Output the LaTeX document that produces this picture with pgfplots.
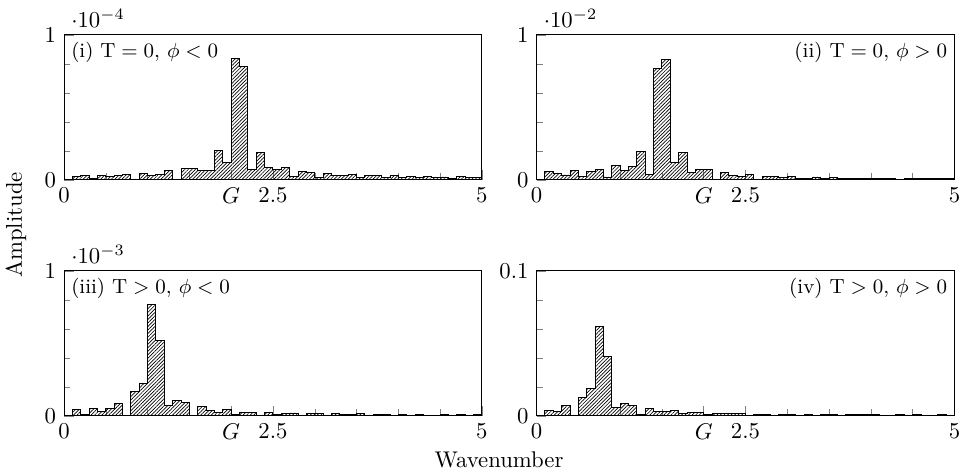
\documentclass[border=0pt]{standalone}
\usepackage{pgfplots}
\pgfplotsset{compat=1.18}
\usetikzlibrary{patterns.meta}
\tikzset{plab/.style={font=\small, inner sep=3pt}}
\begin{document}
\begin{tikzpicture}
\useasboundingbox (0,0) rectangle (424.2pt,207.2pt);
\pgfplotsset{
  panel/.style={
    width=183.9pt, height=63.8pt, scale only axis, anchor=south west,
    xmin=0, xmax=5, ymin=0,
    xtick={0,2,2.5,5}, xticklabels={$0$,$G$,$2.5$,$5$},
    minor xtick={0.5,1,1.5,3,3.5,4,4.5},
    minor y tick num=4,
    xtick pos=bottom, ytick pos=left,
    every y tick scale label/.style={at={(rel axis cs:0,1)},anchor=south west,inner sep=0pt,xshift=3pt,yshift=3pt},
  },
  hist/.style={const plot, draw=black, line width=0.4pt, mark=none,
    pattern={Lines[angle=45,distance=1.1pt,line width=0.3pt]}},
}
% (i)
\begin{axis}[panel, at={(28.16pt,128.04pt)}, ymax=1e-4, ytick={0,1e-4}]
\addplot[hist] table {
x y
0.1 0.025e-4
0.2 0.030e-4
0.3 0.008e-4
0.4 0.030e-4
0.5 0.022e-4
0.6 0.030e-4
0.7 0.038e-4
0.8 0.005e-4
0.9 0.042e-4
1.0 0.032e-4
1.1 0.036e-4
1.2 0.062e-4
1.3 0.005e-4
1.4 0.080e-4
1.5 0.078e-4
1.6 0.062e-4
1.7 0.062e-4
1.8 0.200e-4
1.9 0.120e-4
2.0 0.835e-4
2.1 0.780e-4
2.2 0.070e-4
2.3 0.190e-4
2.4 0.087e-4
2.5 0.070e-4
2.6 0.087e-4
2.7 0.023e-4
2.8 0.057e-4
2.9 0.048e-4
3.0 0.018e-4
3.1 0.046e-4
3.2 0.030e-4
3.3 0.028e-4
3.4 0.039e-4
3.5 0.018e-4
3.6 0.032e-4
3.7 0.028e-4
3.8 0.016e-4
3.9 0.030e-4
4.0 0.016e-4
4.1 0.025e-4
4.2 0.014e-4
4.3 0.023e-4
4.4 0.014e-4
4.5 0.020e-4
4.6 0.011e-4
4.7 0.023e-4
4.8 0.016e-4
4.9 0.018e-4
5.0 0.018e-4
} \closedcycle;
\node[plab, anchor=north west] at (rel axis cs:0,1) {(i) $\mathrm{T}=0$, $\phi<0$};
\end{axis}
% (ii)
\begin{axis}[panel, at={(236.1pt,128.04pt)}, ymax=1e-2, ytick={0,1e-2}]
\addplot[hist] table {
x y
0.1 0.057e-2
0.2 0.046e-2
0.3 0.034e-2
0.4 0.064e-2
0.5 0.023e-2
0.6 0.057e-2
0.7 0.069e-2
0.8 0.020e-2
0.9 0.100e-2
1.0 0.064e-2
1.1 0.092e-2
1.2 0.195e-2
1.3 0.040e-2
1.4 0.771e-2
1.5 0.828e-2
1.6 0.121e-2
1.7 0.188e-2
1.8 0.050e-2
1.9 0.073e-2
2.0 0.073e-2
2.1 0.002e-2
2.2 0.050e-2
2.3 0.030e-2
2.4 0.023e-2
2.5 0.039e-2
2.6 0.005e-2
2.7 0.023e-2
2.8 0.023e-2
2.9 0.018e-2
3.0 0.025e-2
3.1 0.010e-2
3.2 0.012e-2
3.3 0.020e-2
3.4 0.008e-2
3.5 0.014e-2
3.6 0.010e-2
3.7 0.012e-2
3.8 0.008e-2
3.9 0.012e-2
4.0 0.010e-2
4.1 0.008e-2
4.2 0.012e-2
4.3 0.006e-2
4.4 0.010e-2
4.5 0.010e-2
4.6 0.008e-2
4.7 0.010e-2
4.8 0.007e-2
4.9 0.009e-2
5.0 0.009e-2
} \closedcycle;
\node[plab, anchor=north east] at (rel axis cs:1,1) {(ii) $\mathrm{T}=0$, $\phi>0$};
\end{axis}
% (iii)
\begin{axis}[panel, at={(28.16pt,24.2pt)}, ymax=1e-3, ytick={0,1e-3}]
\addplot[hist] table {
x y
0.1 0.044e-3
0.2 0.012e-3
0.3 0.053e-3
0.4 0.028e-3
0.5 0.051e-3
0.6 0.086e-3
0.7 0.000e-3
0.8 0.167e-3
0.9 0.225e-3
1.0 0.766e-3
1.1 0.520e-3
1.2 0.070e-3
1.3 0.106e-3
1.4 0.093e-3
1.5 0.005e-3
1.6 0.065e-3
1.7 0.035e-3
1.8 0.023e-3
1.9 0.042e-3
2.0 0.007e-3
2.1 0.025e-3
2.2 0.025e-3
2.3 0.000e-3
2.4 0.023e-3
2.5 0.012e-3
2.6 0.016e-3
2.7 0.020e-3
2.8 0.002e-3
2.9 0.014e-3
3.0 0.016e-3
3.1 0.005e-3
3.2 0.014e-3
3.3 0.009e-3
3.4 0.009e-3
3.5 0.014e-3
3.6 0.000e-3
3.7 0.009e-3
3.8 0.009e-3
3.9 0.002e-3
4.0 0.012e-3
4.1 0.002e-3
4.2 0.009e-3
4.3 0.005e-3
4.4 0.002e-3
4.5 0.009e-3
4.6 0.005e-3
4.7 0.012e-3
4.8 0.002e-3
4.9 0.007e-3
5.0 0.007e-3
} \closedcycle;
\node[plab, anchor=north west] at (rel axis cs:0,1) {(iii) $\mathrm{T}>0$, $\phi<0$};
\end{axis}
% (iv)
\begin{axis}[panel, at={(236.1pt,24.2pt)}, ymax=0.1, ytick={0,0.1}]
\addplot[hist] table {
x y
0.1 0.0037
0.2 0.0030
0.3 0.0072
0.4 0.0000
0.5 0.0129
0.6 0.0187
0.7 0.0614
0.8 0.0411
0.9 0.0060
1.0 0.0088
1.1 0.0074
1.2 0.0012
1.3 0.0053
1.4 0.0030
1.5 0.0028
1.6 0.0035
1.7 0.0018
1.8 0.0021
1.9 0.0023
2.0 0.0007
2.1 0.0016
2.2 0.0014
2.3 0.0016
2.4 0.0016
2.5 0.0002
2.6 0.0012
2.7 0.0012
2.8 0.0002
2.9 0.0012
3.0 0.0007
3.1 0.0002
3.2 0.0012
3.3 0.0005
3.4 0.0007
3.5 0.0012
3.6 0.0002
3.7 0.0007
3.8 0.0007
3.9 0.0009
4.0 0.0007
4.1 0.0002
4.2 0.0005
4.3 0.0007
4.4 0.0002
4.5 0.0007
4.6 0.0005
4.7 0.0005
4.8 0.0007
4.9 0.0002
5.0 0.0002
} \closedcycle;
\node[plab, anchor=north east] at (rel axis cs:1,1) {(iv) $\mathrm{T}>0$, $\phi>0$};
\end{axis}
\node[rotate=90] at (7pt,108.2pt) {Amplitude};
\node at (219.6pt,4.84pt) {Wavenumber};
\end{tikzpicture}
\end{document}
